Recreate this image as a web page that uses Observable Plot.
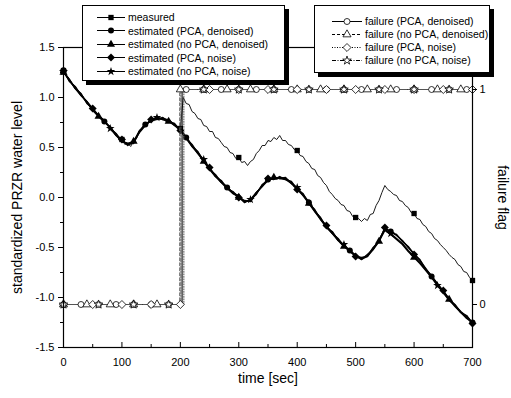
<!DOCTYPE html>
<html><head><meta charset="utf-8">
<script src="https://cdn.jsdelivr.net/npm/d3@7"></script>
<script src="https://cdn.jsdelivr.net/npm/@observablehq/plot@0.6"></script>
<style>
body{margin:0;background:#fff;font-family:"Liberation Sans",Arial,sans-serif;}
#wrap{position:relative;width:511px;height:398px;overflow:hidden;}
.legend{position:absolute;background:#fff;border:1px solid #000;box-shadow:4px 4px 0 #000;box-sizing:border-box;}
.row{position:absolute;left:0;height:13px;display:flex;align-items:center;font-size:10.5px;white-space:nowrap;color:#000;}
.row svg{display:block;}
</style></head><body><div id="wrap"></div>
<script>
// ---------- data ----------
const estTime = [0,10,20,30,40,50,60,70,80,90,100,110,120,130,140,150,160,170,180,190,200,210,220,230,240,250,260,270,280,290,300,310,320,330,340,350,360,370,380,390,400,410,420,430,440,450,460,470,480,490,500,510,520,530,540,550,560,570,580,590,600,610,620,630,640,650,660,670,680,690,700];

const measTime = [0,5,10,15,20,25,30,35,40,45,50,55,60,65,70,75,80,85,90,95,100,105,110,115,120,125,130,135,140,145,150,155,160,165,170,175,180,185,190,195,200,205,210,215,220,225,230,235,240,245,250,255,260,265,270,275,280,285,290,295,300,305,310,315,320,325,330,335,340,345,350,355,360,365,370,375,380,385,390,395,400,405,410,415,420,425,430,435,440,445,450,455,460,465,470,475,480,485,490,495,500,505,510,515,520,525,530,535,540,545,550,555,560,565,570,575,580,585,590,595,600,605,610,615,620,625,630,635,640,645,650,655,660,665,670,675,680,685,690,695,700];

const measured = [1.27,1.22,1.18,1.13,1.11,1.06,1.04,0.99,0.96,0.91,0.89,0.84,0.83,0.78,0.77,0.72,0.71,0.66,0.64,0.58,0.58,0.53,0.54,0.51,0.57,0.59,0.67,0.69,0.74,0.74,0.78,0.77,0.80,0.78,0.80,0.76,0.78,0.74,0.74,0.70,0.69,
1.00,0.94,0.93,0.86,0.84,0.79,0.78,0.72,0.71,0.66,0.66,0.60,0.59,0.55,0.51,0.50,0.45,0.44,0.39,0.40,0.35,0.36,0.32,0.36,0.38,0.44,0.47,0.52,0.52,0.57,0.56,0.60,0.58,0.62,0.57,0.57,0.53,0.52,0.48,0.47,0.42,0.41,0.36,0.34,0.29,0.28,0.22,0.20,0.15,0.12,0.06,0.03,-0.01,-0.03,-0.07,-0.08,-0.13,-0.14,-0.19,-0.20,-0.21,-0.24,-0.21,-0.23,-0.17,-0.16,-0.08,-0.03,0.05,0.12,0.08,0.06,0.03,0.02,-0.03,-0.04,-0.08,-0.10,-0.15,-0.16,-0.21,-0.22,-0.27,-0.29,-0.34,-0.36,-0.41,-0.43,-0.47,-0.50,-0.53,-0.57,-0.60,-0.62,-0.67,-0.69,-0.74,-0.75,-0.80,-0.83];

const estPCADenoised = [1.26,1.17,1.10,1.03,0.95,0.88,0.82,0.76,0.70,0.63,0.57,0.53,0.55,0.66,0.73,0.77,0.79,0.79,0.77,0.73,0.68,0.60,0.52,0.45,0.37,0.29,0.22,0.16,0.10,0.05,0.01,-0.04,-0.03,0.04,0.12,0.18,0.19,0.20,0.19,0.15,0.09,0.03,-0.05,-0.13,-0.21,-0.29,-0.35,-0.42,-0.48,-0.53,-0.58,-0.61,-0.58,-0.51,-0.43,-0.31,-0.34,-0.38,-0.43,-0.50,-0.56,-0.63,-0.71,-0.79,-0.86,-0.94,-1.01,-1.08,-1.14,-1.19,-1.25];
const estNoPCADenoised = [1.25,1.18,1.09,1.02,0.96,0.87,0.81,0.77,0.69,0.62,0.56,0.54,0.56,0.65,0.72,0.78,0.80,0.78,0.76,0.72,0.67,0.59,0.51,0.44,0.36,0.28,0.21,0.15,0.09,0.04,0.00,-0.05,-0.02,0.05,0.11,0.17,0.20,0.19,0.18,0.14,0.08,0.02,-0.06,-0.14,-0.22,-0.30,-0.36,-0.43,-0.49,-0.54,-0.59,-0.62,-0.59,-0.52,-0.44,-0.33,-0.37,-0.42,-0.47,-0.54,-0.60,-0.66,-0.73,-0.80,-0.87,-0.95,-1.02,-1.09,-1.15,-1.20,-1.26];
const estPCANoise = [1.27,1.16,1.11,1.02,0.96,0.89,0.81,0.75,0.71,0.62,0.58,0.52,0.56,0.67,0.72,0.78,0.78,0.80,0.76,0.74,0.67,0.61,0.51,0.46,0.36,0.30,0.21,0.17,0.09,0.06,0.00,-0.03,-0.04,0.05,0.11,0.19,0.18,0.21,0.18,0.16,0.08,0.04,-0.06,-0.12,-0.22,-0.28,-0.36,-0.41,-0.49,-0.52,-0.59,-0.60,-0.59,-0.50,-0.44,-0.30,-0.35,-0.37,-0.44,-0.49,-0.57,-0.62,-0.72,-0.78,-0.87,-0.93,-1.02,-1.07,-1.15,-1.18,-1.26];
const estNoPCANoise = [1.26,1.18,1.09,1.04,0.94,0.89,0.82,0.77,0.69,0.64,0.56,0.54,0.54,0.66,0.74,0.76,0.80,0.78,0.78,0.72,0.69,0.59,0.53,0.44,0.38,0.28,0.23,0.15,0.11,0.04,0.02,-0.05,-0.02,0.03,0.13,0.17,0.20,0.19,0.20,0.14,0.10,0.02,-0.04,-0.14,-0.20,-0.30,-0.34,-0.43,-0.47,-0.54,-0.57,-0.62,-0.57,-0.52,-0.42,-0.32,-0.36,-0.41,-0.46,-0.53,-0.59,-0.65,-0.72,-0.80,-0.88,-0.95,-1.03,-1.08,-1.15,-1.21,-1.25];

// failure flag step lines (time, flag)
const failPCADenoisedT = [0,203,203,700],   failPCADenoisedF = [0,0,1,1];
const failNoPCADenoisedT = [0,199,199,700], failNoPCADenoisedF = [0,0,1,1];
const failPCANoiseT = [0,206,206,700],      failPCANoiseF = [0,0,1,1];
const failNoPCANoiseT = [0,201,201,700],    failNoPCANoiseF = [0,0,1,1];
// failure marker times
const failCircleT = [0,30,60,90,120,150,180,210,240,270,300,330,360,390,420,450,480,510,540,570,600,630,660,690];
const failTriangleT = [0,40,80,120,160,200,240,280,320,360,400,440,480,520,560,600,640,680];
const failDiamondT = [0,50,100,150,200,250,300,350,400,450,500,550,600,650,700];
const failStarT = [0,60,120,180,240,300,360,420,480,540,600,660];

const yTicks = [-1.5,-1.0,-0.5,0.0,0.5,1.0,1.5];
const yMinorTicks = [-1.25,-0.75,-0.25,0.25,0.75,1.25];
const xTicks = [0,100,200,300,400,500,600,700];
const xMinorTicks = [50,150,250,350,450,550,650];
const flagTicks = [0,1];
const flagZeroAt = -1.07, flagOneAt = 1.08; // left-axis level of flag 0 and 1

const legendLeftLabels = ["measured","estimated (PCA, denoised)","estimated (no PCA, denoised)","estimated (PCA, noise)","estimated (no PCA, noise)"];
const legendRightLabels = ["failure (PCA, denoised)","failure (no PCA, denoised)","failure (PCA, noise)","failure (no PCA, noise)"];

// ---------- build ----------
const flagToY = f => flagZeroAt + f * (flagOneAt - flagZeroAt);
const yToFlag = y => (y - flagZeroAt) / (flagOneAt - flagZeroAt);

const meas = measTime.map((t,i)=>({t, v: measured[i]}));
const est = (arr)=> estTime.map((t,i)=>({t, v: arr[i]}));
const e1 = est(estPCADenoised), e2 = est(estNoPCADenoised), e3 = est(estPCANoise), e4 = est(estNoPCANoise);

const failLine = (T,F)=> T.map((t,i)=>({t, v: flagToY(F[i])}));
const flagAt = (T,F,t)=>{ let f = F[0]; for (let i=0;i<T.length;i++) if (T[i] <= t) f = F[i]; return f; };
const failMarks = (MT, T, F)=> MT.map(t=>({t, v: flagToY(flagAt(T,F,t))}));

const f1 = failLine(failPCADenoisedT, failPCADenoisedF);
const f2 = failLine(failNoPCADenoisedT, failNoPCADenoisedF);
const f3 = failLine(failPCANoiseT, failPCANoiseF);
const f4 = failLine(failNoPCANoiseT, failNoPCANoiseF);
const m1 = failMarks(failCircleT, failPCADenoisedT, failPCADenoisedF);
const m2 = failMarks(failTriangleT, failNoPCADenoisedT, failNoPCADenoisedF);
const m3 = failMarks(failDiamondT, failPCANoiseT, failPCANoiseF);
const m4 = failMarks(failStarT, failNoPCANoiseT, failNoPCANoiseF);

const dashes = [null, "3,2", "1,1.5", "4,1.5,1,1.5"];

const lineOpts = {x:"t", y:"v", stroke:"#000"};
const rC = 3.0, rT = 3.0, rD = 3.6, rS = 2.7, rQ = 3.0;

const chart = Plot.plot({
  width: 511, height: 398,
  marginTop: 47, marginBottom: 51, marginLeft: 63, marginRight: 39,
  style: {fontFamily: '"Liberation Sans", Arial, sans-serif', fontSize: "11px", color: "#000", background: "#fff"},
  x: {domain: [0,700]},
  y: {domain: [-1.5,1.5]},
  marks: [
    // estimated curves
    Plot.line(e1, {...lineOpts, strokeWidth: 1.4}),
    Plot.line(e2, {...lineOpts, strokeWidth: 1.4}),
    Plot.line(e3, {...lineOpts, strokeWidth: 1.4}),
    Plot.line(e4, {...lineOpts, strokeWidth: 1.4}),
    Plot.line(meas, {...lineOpts, strokeWidth: 0.9}),
    Plot.dot(e1.filter(d=>d.t%70===0), {x:"t", y:"v", symbol:"circle", r:rC, fill:"#000", stroke:"none"}),
    Plot.dot(e2.filter(d=>d.t%60===0), {x:"t", y:"v", symbol:"triangle", r:rT, fill:"#000", stroke:"none"}),
    Plot.dot(e3.filter(d=>d.t%50===0), {x:"t", y:"v", symbol:"diamond2", r:rD, fill:"#000", stroke:"none"}),
    Plot.dot(e4.filter(d=>d.t%80===0), {x:"t", y:"v", symbol:"star", r:rS, fill:"#000", stroke:"none"}),
    Plot.dot(meas.filter(d=>d.t%100===0), {x:"t", y:"v", symbol:"square", r:rQ, fill:"#000", stroke:"none"}),
    // failure flags
    Plot.line(f1, {...lineOpts, strokeWidth: 1}),
    Plot.line(f2, {...lineOpts, strokeWidth: 1, strokeDasharray: dashes[1], stroke:"#555"}),
    Plot.line(f3, {...lineOpts, strokeWidth: 1, strokeDasharray: dashes[2], stroke:"#555"}),
    Plot.line(f4, {...lineOpts, strokeWidth: 1, strokeDasharray: dashes[3], stroke:"#555"}),
    Plot.dot(m1, {x:"t", y:"v", symbol:"circle", r:rC, fill:"#fff", stroke:"#000", strokeWidth:0.8}),
    Plot.dot(m2, {x:"t", y:"v", symbol:"triangle", r:rT, fill:"#fff", stroke:"#000", strokeWidth:0.8}),
    Plot.dot(m3, {x:"t", y:"v", symbol:"diamond2", r:rD, fill:"#fff", stroke:"#000", strokeWidth:0.8}),
    Plot.dot(m4, {x:"t", y:"v", symbol:"star", r:rS, fill:"#fff", stroke:"#000", strokeWidth:0.8}),
    // frame & axes
    Plot.frame({stroke:"#000", strokeWidth: 1.2}),
    Plot.axisY(yTicks, {anchor:"left", tickSize:5, tickPadding:4, tickFormat: d=>d.toFixed(1), label:null}),
    Plot.axisY(yMinorTicks, {anchor:"left", tickSize:3, tickFormat: ()=>"", label:null}),
    Plot.axisY(flagTicks.map(flagToY), {anchor:"right", tickSize:4, tickPadding:3, tickFormat: d=>String(Math.round(yToFlag(d))), label:null}),
    Plot.axisX(xTicks, {anchor:"bottom", tickSize:0, tickPadding:11, label:null}),
    Plot.ruleX(xTicks, {x: d=>d, insetTop: 300-5, stroke:"#000"}),
    Plot.ruleX(xMinorTicks, {x: d=>d, insetTop: 300-3, stroke:"#000"}),
    Plot.text(["standardized PRZR water level"], {text: d=>d, frameAnchor:"left", textAnchor:"middle", rotate:-90, dx:-46, fontSize:14}),
    Plot.text(["failure flag"], {text: d=>d, frameAnchor:"right", textAnchor:"middle", rotate:90, dx:30, fontSize:14}),
    Plot.text(["time [sec]"], {text: d=>d, frameAnchor:"bottom", textAnchor:"middle", dy:35, fontSize:14})
  ]
});

const wrap = document.getElementById("wrap");
wrap.appendChild(chart);

// ---------- legends ----------
function symPath(sym, r){
  const m = {circle:d3.symbolCircle, triangle:d3.symbolTriangle, diamond2:d3.symbolDiamond2, star:d3.symbolStar, square:d3.symbolSquare};
  return d3.symbol(m[sym], Math.PI*r*r)();
}
function makeLegend(box, items){
  const div = document.createElement("div");
  div.className = "legend";
  Object.assign(div.style, {left: box.left+"px", top: box.top+"px", width: box.w+"px", height: box.h+"px"});
  items.forEach((it, i)=>{
    const row = document.createElement("div");
    row.className = "row";
    row.style.top = (box.first + i*box.step - 6.5) + "px";
    row.style.left = box.lineX + "px";
    const L = box.lineLen;
    const svg = d3.create("svg").attr("width", L+2).attr("height", 13);
    svg.append("line").attr("x1",0).attr("x2",L).attr("y1",6.5).attr("y2",6.5)
      .attr("stroke", "#000").attr("stroke-width", 1)
      .attr("stroke-dasharray", it.dash || null);
    svg.append("path").attr("d", symPath(it.symbol, it.r))
      .attr("transform", `translate(${L/2},6.5)`)
      .attr("fill", it.open ? "#fff" : "#000").attr("stroke", "#000").attr("stroke-width", it.open?0.8:0);
    row.appendChild(svg.node());
    const span = document.createElement("span");
    span.textContent = it.label;
    span.style.marginLeft = (box.gap) + "px";
    row.appendChild(span);
    div.appendChild(row);
  });
  wrap.appendChild(div);
}
makeLegend({left:82, top:5, w:203, h:76, first:11, step:13.5, lineX:14, lineLen:28, gap:1}, [
  {label: legendLeftLabels[0], symbol:"square", r:rQ},
  {label: legendLeftLabels[1], symbol:"circle", r:rC},
  {label: legendLeftLabels[2], symbol:"triangle", r:rT},
  {label: legendLeftLabels[3], symbol:"diamond2", r:rD},
  {label: legendLeftLabels[4], symbol:"star", r:rS}
]);
makeLegend({left:314, top:5, w:176, h:68, first:15, step:13, lineX:17, lineLen:30, gap:1}, [
  {label: legendRightLabels[0], symbol:"circle", r:rC, open:true, dash:dashes[0]},
  {label: legendRightLabels[1], symbol:"triangle", r:rT, open:true, dash:dashes[1]},
  {label: legendRightLabels[2], symbol:"diamond2", r:rD, open:true, dash:dashes[2]},
  {label: legendRightLabels[3], symbol:"star", r:rS, open:true, dash:dashes[3]}
]);
</script></body></html>
